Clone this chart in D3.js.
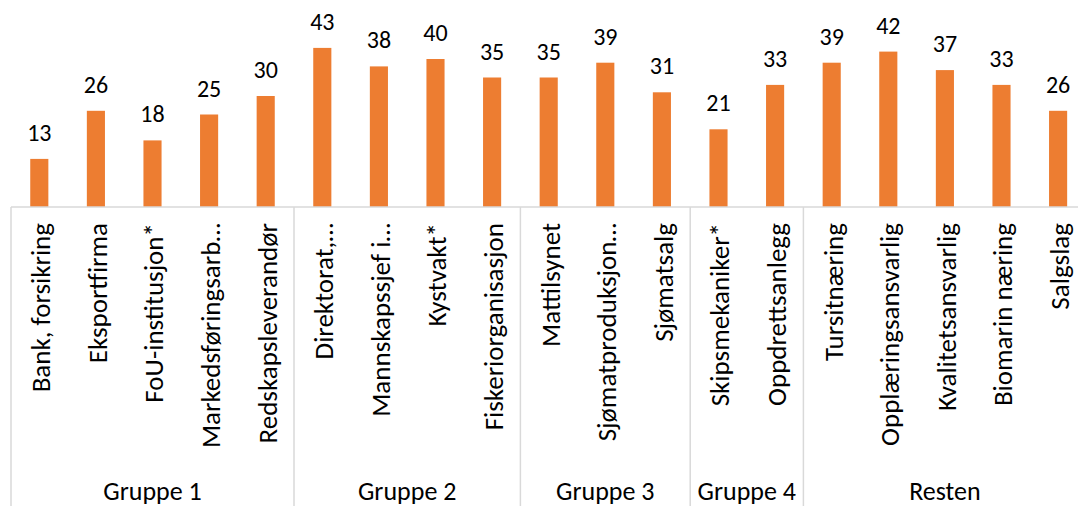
<!DOCTYPE html>
<html>
<head>
<meta charset="utf-8">
<script src="https://cdn.jsdelivr.net/npm/d3@7"></script>
<style>
  body { margin: 0; background: #fff; }
  text { font-family: Calibri, Carlito, Lato, sans-serif; fill: #000; }
</style>
</head>
<body>
<svg></svg>
<script>
// values
var categories = ["Bank, forsikring","Eksportfirma","FoU-institusjon*","Markedsføringsarb…","Redskapsleverandør",
                  "Direktorat,…","Mannskapssjef i…","Kystvakt*","Fiskeriorganisasjon",
                  "Mattilsynet","Sjømatproduksjon…","Sjømatsalg",
                  "Skipsmekaniker*","Oppdrettsanlegg",
                  "Tursitnæring","Opplæringsansvarlig","Kvalitetsansvarlig","Biomarin næring","Salgslag"];
var values = [13,26,18,25,30,43,38,40,35,35,39,31,21,33,39,42,37,33,26];
var groupNames = ["Gruppe 1","Gruppe 2","Gruppe 3","Gruppe 4","Resten"];
var groupSizes = [5,4,3,2,5];

var width = 1078, height = 506;
var svg = d3.select("svg").attr("width", width).attr("height", height);

var left = 11, step = 56.6, axisY = 207;

var x = d3.scaleBand()
  .domain(categories)
  .range([left, left + step * categories.length])
  .paddingInner(0.68)
  .paddingOuter(0.34);

var y = d3.scaleLinear().domain([0, 56]).range([axisY, axisY - 56 * 3.7]);

// bars
svg.append("g").selectAll("rect")
  .data(values)
  .enter()
  .append("rect")
  .attr("x", function (d, i) { return x(categories[i]); })
  .attr("width", x.bandwidth())
  .attr("y", function (d) { return y(d); })
  .attr("height", function (d) { return y(0) - y(d); })
  .style("fill", "#ED7D31");

// data labels
svg.append("g").selectAll("text")
  .data(values)
  .enter()
  .append("text")
  .attr("x", function (d, i) { return x(categories[i]) + x.bandwidth() / 2; })
  .attr("y", function (d) { return y(d) - 18; })
  .attr("text-anchor", "middle")
  .style("font-size", "24px")
  .text(function (d) { return d; });

// axis line + group separators
var axis = svg.append("g").style("stroke", "#D9D9D9").style("stroke-width", 1.5);
axis.append("line")
  .attr("x1", left).attr("x2", width)
  .attr("y1", axisY).attr("y2", axisY);

var bounds = [0];
groupSizes.forEach(function (s) { bounds.push(bounds[bounds.length - 1] + s); });

bounds.forEach(function (b) {
  var bx = left + b * x.step();
  axis.append("line")
    .attr("x1", bx).attr("x2", bx)
    .attr("y1", axisY).attr("y2", height);
});

// category labels, rotated
svg.append("g").selectAll("text")
  .data(categories)
  .enter()
  .append("text")
  .attr("transform", function (d) {
    return "translate(" + (x(d) + x.bandwidth() / 2) + "," + 223 + ")rotate(-90)";
  })
  .attr("dy", "0.4em")
  .attr("text-anchor", "end")
  .style("font-size", "27px")
  .text(function (d) { return d; });

// group labels
svg.append("g").selectAll("text")
  .data(groupNames)
  .enter()
  .append("text")
  .attr("x", function (d, i) { return left + (bounds[i] + bounds[i + 1]) / 2 * x.step(); })
  .attr("y", 500)
  .attr("text-anchor", "middle")
  .style("font-size", "26px")
  .text(function (d) { return d; });
</script>
</body>
</html>
